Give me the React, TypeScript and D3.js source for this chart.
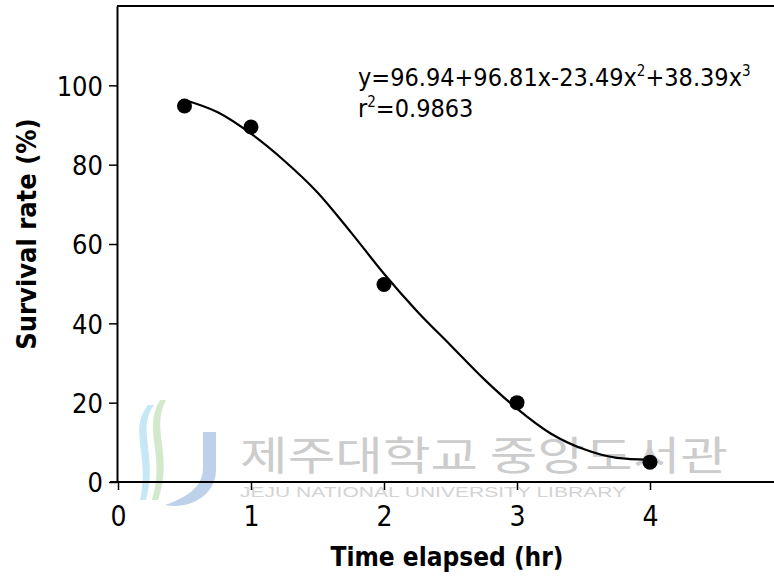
import React, { useEffect, useRef } from 'react';
import * as d3 from 'd3';

// observed survival rates
const timeHours = [0.5, 1, 2, 3, 4];
const survivalRate = [94.8, 89.5, 49.8, 20.0, 5.0];

// fitted curve
const fitTime = [0.5, 0.75, 1.0, 1.25, 1.5, 1.75, 2.0, 2.25, 2.5, 2.75, 3.0, 3.25, 3.5, 3.75, 4.0];
const fitRate = [96.3, 93.2, 87.8, 81.0, 73.0, 63.0, 52.5, 43.0, 34.5, 26.0, 18.5, 12.3, 8.3, 6.1, 5.6];

const xTicks = [0, 1, 2, 3, 4];
const yTicks = [0, 20, 40, 60, 80, 100];

const W = 774;
const H = 577;
const FONT = "'DejaVu Sans Condensed', 'DejaVu Sans', sans-serif";

const App = () => {
    const svgRef = useRef<SVGSVGElement>(null);

    useEffect(() => {
        const svg = d3.select(svgRef.current);
        svg.selectAll('*').remove();

        const x = d3.scaleLinear().domain([0, 5]).range([118, 783]);
        const y = d3.scaleLinear().domain([0, 120]).range([482, 6]);

        // watermark
        const wm = svg.append('g').attr('opacity', 0.5);
        wm.append('path')
            .attr('d', 'M148,405 C128,430 150,455 140,500 L146,500 C158,455 136,430 154,405 Z')
            .attr('fill', '#8fd0ec');
        wm.append('path')
            .attr('d', 'M160,400 C142,430 166,455 152,500 L158,500 C174,455 150,430 166,400 Z')
            .attr('fill', '#a6d49a');
        wm.append('path')
            .attr('d', 'M203,432 L216,432 L216,470 C216,495 190,510 165,505 C185,498 203,488 203,468 Z')
            .attr('fill', '#7ea6d6');
        wm.append('text')
            .attr('x', 240).attr('y', 470)
            .attr('font-family', "'Noto Sans CJK KR', sans-serif")
            .attr('font-size', 40)
            .attr('textLength', 488)
            .attr('lengthAdjust', 'spacingAndGlyphs')
            .attr('fill', '#9a9a9a')
            .text('제주대학교 중앙도서관');
        wm.append('text')
            .attr('x', 240).attr('y', 497)
            .attr('font-family', "'Liberation Sans', sans-serif")
            .attr('font-size', 15)
            .attr('textLength', 386)
            .attr('lengthAdjust', 'spacingAndGlyphs')
            .attr('fill', '#a8a8a8')
            .text('JEJU NATIONAL UNIVERSITY   LIBRARY');

        // frame: top border, left and bottom axes
        svg.append('line')
            .attr('x1', 117).attr('x2', W).attr('y1', 6).attr('y2', 6)
            .attr('stroke', '#000').attr('stroke-width', 2);

        const yAxis = svg.append('g')
            .attr('transform', 'translate(117,0)')
            .call(d3.axisLeft(y).tickValues(yTicks).tickSize(8).tickPadding(6).tickSizeOuter(0));
        yAxis.select('.domain').attr('stroke-width', 2);
        yAxis.selectAll('line').attr('stroke-width', 1.5);
        yAxis.selectAll('text')
            .attr('font-family', FONT)
            .attr('font-size', 27)
            .attr('dy', '0.36em');

        const xAxis = svg.append('g')
            .attr('transform', 'translate(0,482)')
            .call(d3.axisBottom(x).tickValues(xTicks).tickFormat(d3.format('d')).tickSize(8).tickPadding(16).tickSizeOuter(0));
        xAxis.select('.domain').attr('stroke-width', 2).attr('d', `M110,0H${W}`);
        xAxis.selectAll('line').attr('stroke-width', 1.5);
        xAxis.selectAll('text')
            .attr('font-family', FONT)
            .attr('font-size', 28);

        // axis titles
        svg.append('text')
            .attr('transform', 'translate(36,234) rotate(-90)')
            .attr('text-anchor', 'middle')
            .attr('font-family', FONT)
            .attr('font-weight', 'bold')
            .attr('font-size', 27)
            .text('Survival rate (%)');

        svg.append('text')
            .attr('x', 447).attr('y', 566)
            .attr('text-anchor', 'middle')
            .attr('font-family', FONT)
            .attr('font-weight', 'bold')
            .attr('font-size', 26)
            .text('Time elapsed (hr)');

        // fitted curve
        const line = d3.line<number>()
            .x((d, i) => x(fitTime[i]))
            .y(d => y(d))
            .curve(d3.curveMonotoneX);
        svg.append('path')
            .datum(fitRate)
            .attr('d', line)
            .attr('fill', 'none')
            .attr('stroke', '#000')
            .attr('stroke-width', 2.2);

        // points
        svg.selectAll('.pt')
            .data(survivalRate)
            .enter()
            .append('circle')
            .attr('class', 'pt')
            .attr('cx', (d, i) => x(timeHours[i]))
            .attr('cy', d => y(d))
            .attr('r', 7.5)
            .attr('fill', '#000');

        // equation
        const eq = svg.append('text')
            .attr('x', 358).attr('y', 86)
            .attr('font-family', FONT)
            .attr('font-size', 25);
        eq.append('tspan').text('y=96.94+96.81x-23.49x');
        eq.append('tspan').attr('font-size', 15).attr('dy', -10).text('2');
        eq.append('tspan').attr('dy', 10).text('+38.39x');
        eq.append('tspan').attr('font-size', 15).attr('dy', -10).text('3');

        const r2 = svg.append('text')
            .attr('x', 358).attr('y', 117)
            .attr('font-family', FONT)
            .attr('font-size', 25);
        r2.append('tspan').text('r');
        r2.append('tspan').attr('font-size', 15).attr('dy', -10).text('2');
        r2.append('tspan').attr('dy', 10).text('=0.9863');
    }, []);

    return (
        <svg
            ref={svgRef}
            width={W}
            height={H}
            style={{ position: 'absolute', left: 0, top: 0, background: '#fff' }}
        />
    );
};

export default App;
